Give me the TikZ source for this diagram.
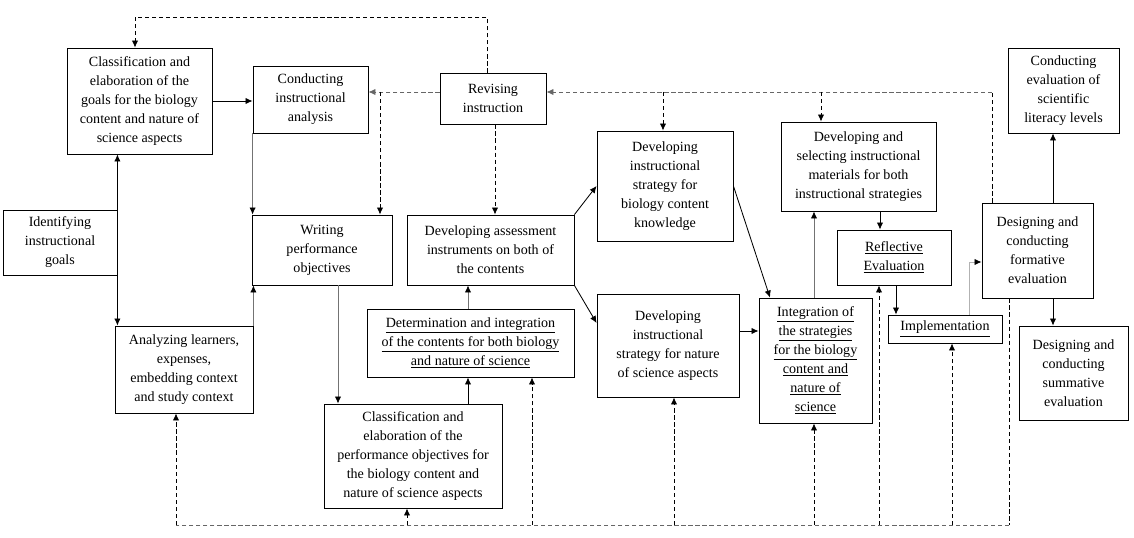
\documentclass[tikz,border=0pt]{standalone}
\usepackage{fontspec}
\setmainfont{Liberation Serif}
\usetikzlibrary{arrows.meta}
\tikzset{>={Latex[length=5pt,width=4.5pt]}}

\begin{document}
\begin{tikzpicture}[x=0.025cm, y=-0.025cm,
    box/.style 2 args={draw, line width=0.6pt, align=center, inner sep=0pt,
        minimum width=#1*0.025cm, minimum height=#2*0.025cm,
        font=\fontsize{10}{13.5}\selectfont},
    con/.style={line width=0.6pt, ->},
    gcon/.style={line width=0.6pt, black!55, -{Latex[length=5pt,width=4.5pt,color=black]}},
    dsh/.style={line width=0.6pt, dash pattern=on 3pt off 2pt},
    gdsh/.style={dsh, black!60}]
    \useasboundingbox (0,0) rectangle (1134,538);
    \node[box={145}{106}] (goals) at (139.5,101) {Classification and\\elaboration of the\\goals for the biology\\content and nature of\\science aspects};
    \node[box={115}{67}] (analysis) at (310.5,99.5) {Conducting\\instructional\\analysis};
    \node[box={114}{65}] (ident) at (60,242.5) {Identifying\\instructional\\goals};
    \node[box={140}{70}] (writing) at (322,250) {Writing\\performance\\objectives};
    \node[box={138}{87}] (analyz) at (184,369.5) {Analyzing learners,\\expenses,\\embedding context\\and study context};
    \node[box={106}{51}] (revise) at (493,98.5) {Revising\\instruction};
    \node[box={136}{110}] (stratbio) at (665,186) {Developing\\instructional\\strategy for\\biology content\\knowledge};
    \node[box={167}{70}] (assess) at (490.5,250) {Developing assessment\\instruments on both of\\the contents};
    \node[box={155}{89}] (materials) at (858.5,166.5) {Developing and\\selecting instructional\\materials for both\\instructional strategies};
    \node[box={111}{85}] (literacy) at (1063.5,90.5) {Conducting\\evaluation of\\scientific\\literacy levels};
    \node[box={114}{55}] (reflect) at (894,257.5) {\underline{Reflective}\\\underline{Evaluation}};
    \node[box={111}{95}] (formative) at (1037.5,250.5) {Designing and\\conducting\\formative\\evaluation};
    \node[box={207}{68}] (determ) at (470.5,343) {\underline{Determination and integration}\\\underline{of the contents for both biology}\\\underline{and nature of science}};
    \node[box={178}{104}] (classperf) at (413,456) {Classification and\\elaboration of the\\performance objectives for\\the biology content and\\nature of science aspects};
    \node[box={142}{103}] (stratnat) at (668,345.5) {Developing\\instructional\\strategy for nature\\of science aspects};
    \node[box={113}{125}] (integr) at (815.5,360.5) {\underline{Integration of}\\\underline{the strategies}\\\underline{for the biology}\\\underline{content and}\\\underline{nature of}\\\underline{science}};
    \node[box={114}{28}] (implem) at (945,329) {\underline{Implementation}};
    \node[box={109}{94}] (summ) at (1073.5,373) {Designing and\\conducting\\summative\\evaluation};

    \draw[con] (ident.north east) -- (ident.north east |- goals.south);
    \draw[con] (ident.south east) -- (ident.south east |- analyz.north);
    \draw[con] (goals.east) -- (goals.east -| analysis.west);
    \draw[gcon] (analysis.south west) -- (analysis.south west |- writing.north);
    \draw[gcon] (analyz.north east) -- (analyz.north east |- writing.south);
    \draw[gcon] (writing.south -| 338,0) -- (classperf.north -| 338,0);
    \draw[con] (classperf.north -| 468,0) -- (determ.south -| 468,0);
    \draw[gcon] (determ.north -| 468,0) -- (assess.south -| 468,0);
    \draw[con] (assess.north east) -- (stratbio.west);
    \draw[con] (assess.south east) -- (stratnat.west |- 0,323);
    \draw[con] (stratbio.east) -- (integr.north -| 770,0);
    \draw[con] (stratnat.east |- 0,331) -- (integr.west |- 0,331);
    \draw[gcon] (integr.north -| 814,0) -- (materials.south -| 814,0);
    \draw[con] (materials.south -| 880,0) -- (reflect.north -| 880,0);
    \draw[con] (reflect.south -| 896,0) -- (implem.north -| 896,0);
    \draw[gcon, black!30] (implem.north -| 969,0) |- (formative.west |- 0,262);
    \draw[con] (formative.north -| 1053,0) -- (literacy.south -| 1053,0);
    \draw[con] (formative.south -| 1053,0) -- (summ.north -| 1053,0);

    % feedback lines
    \coordinate (top) at (487,17);
    \coordinate (jl) at (380,92);
    \coordinate (jr) at (992,92);
    \coordinate (bot) at (1009,525);
    \draw[dsh,->] (revise.north -| top) -- (top) -| (goals.north -| 135,0);
    \draw[gdsh,->] (revise.west |- jl) -- (analysis.east |- jl);
    \draw[dsh,->] (jl) -- (writing.north -| jl);
    \draw[dsh,->] (revise.south -| 495,0) -- (assess.north -| 495,0);
    \draw[dsh] (formative.north -| jr) -- (jr);
    \draw[gdsh,->] (jr) -- (revise.east |- jr);
    \foreach \nd/\xx in {stratbio/663, materials/821}
        \draw[dsh,->] (jr -| \xx,0) -- (\nd.north -| \xx,0);
    \draw[dsh] (formative.south -| bot) -- (bot);
    \draw[gdsh] (bot) -- (bot -| 176,0);
    \foreach \nd/\xx in {analyz/176, classperf/407, determ/532, stratnat/674, integr/814, reflect/879, implem/952}
        \draw[dsh,->] (bot -| \xx,0) -- (\nd.south -| \xx,0);
\end{tikzpicture}
\end{document}
